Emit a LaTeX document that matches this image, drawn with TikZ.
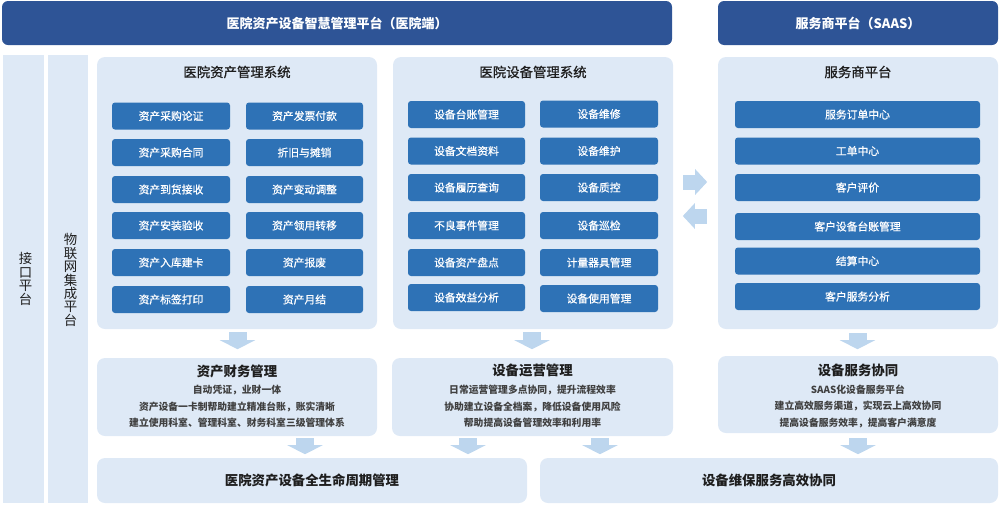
\documentclass[tikz,border=0pt]{standalone}
\usepackage{fontspec}
\setmainfont{Noto Sans CJK SC}
\usepackage{xcolor}
\usepackage{tikz}
\usetikzlibrary{positioning}
\usetikzlibrary{arrows.meta}
\pgfdeclarelayer{nodelayer}
\pgfdeclarelayer{edgelayer}
\pgfsetlayers{nodelayer,edgelayer,main}
\definecolor{hdrblue}{HTML}{2E5496}
\definecolor{btnblue}{HTML}{2E72B6}
\definecolor{pnlblue}{HTML}{DEE9F6}
\definecolor{arwblue}{HTML}{BDD6EE}
\definecolor{txtdark}{HTML}{1E1E1E}

\begin{document}
\begin{tikzpicture}[x=1pt, y=-1pt,
    hdr/.style={fill=hdrblue, rounded corners=6pt, inner sep=0pt, text=white, font=\fontsize{13}{15}\selectfont\bfseries},
    pnl/.style={fill=pnlblue, rounded corners=8pt, inner sep=0pt},
    btn/.style={fill=btnblue, rounded corners=3pt, inner sep=0pt, minimum height=27pt, text=white, font=\fontsize{10.8}{12}\selectfont\addfontfeature{FakeBold=0.8}},
    ttl/.style={text=txtdark, inner sep=0pt, font=\fontsize{13.4}{15}\selectfont\addfontfeature{FakeBold=1}},
    bigttl/.style={text=txtdark, inner sep=0pt, font=\fontsize{13.4}{15}\selectfont\bfseries},
    vtxt/.style={text=txtdark, inner sep=0pt, align=center, font=\fontsize{13.4}{13.4}\selectfont},
    lines/.style={text=txtdark!85, inner sep=0pt, align=center, font=\fontsize{9.8}{16.5}\selectfont\bfseries},
    blockarw/.style={arwblue, line width=18pt, -{Triangle[width=35pt, length=9pt]}},
    sidearw/.style={arwblue, line width=15pt, -{Triangle[width=25pt, length=12pt]}}]
  \useasboundingbox (0,0) rectangle (1000,504);
  \begin{pgfonlayer}{nodelayer}
    \node [hdr, minimum width=670pt, minimum height=44pt] (0) at (337, 23) {医院资产设备智慧管理平台（医院端）};
    \node [hdr, minimum width=280pt, minimum height=44pt] (1) at (858, 23) {服务商平台（SAAS）};
    \node [pnl, rounded corners=0pt, minimum width=41pt, minimum height=448pt] (2) at (23.5, 279) {};
    \node [pnl, rounded corners=0pt, minimum width=40pt, minimum height=448pt] (3) at (68, 279) {};
    \node [vtxt] at (25.5, 279) {接\\口\\平\\台};
    \node [vtxt] at (70.5, 280) {物\\联\\网\\集\\成\\平\\台};
    \node [pnl, minimum width=280pt, minimum height=272pt] (4) at (237, 193) {};
    \node [pnl, minimum width=280pt, minimum height=272pt] (5) at (533, 193) {};
    \node [pnl, minimum width=280pt, minimum height=272pt] (6) at (858, 193) {};
    \node [ttl] (7) at (237, 72) {医院资产管理系统};
    \node [ttl] (8) at (533, 72) {医院设备管理系统};
    \node [ttl] (9) at (858, 72) {服务商平台};
    \node [btn, minimum width=118pt] (10) at (171, 116) {资产采购论证};
    \node [btn, minimum width=118pt] (11) at (171, 152.5) {资产采购合同};
    \node [btn, minimum width=118pt] (12) at (171, 189.5) {资产到货接收};
    \node [btn, minimum width=118pt] (13) at (171, 225.5) {资产安装验收};
    \node [btn, minimum width=118pt] (14) at (171, 262.5) {资产入库建卡};
    \node [btn, minimum width=118pt] (15) at (171, 299.5) {资产标签打印};
    \node [btn, minimum width=117pt] (16) at (304.5, 116) {资产发票付款};
    \node [btn, minimum width=117pt] (17) at (304.5, 152.5) {折旧与摊销};
    \node [btn, minimum width=117pt] (18) at (304.5, 189.5) {资产变动调整};
    \node [btn, minimum width=117pt] (19) at (304.5, 225.5) {资产领用转移};
    \node [btn, minimum width=117pt] (20) at (304.5, 262.5) {资产报废};
    \node [btn, minimum width=117pt] (21) at (304.5, 299.5) {资产月结};
    \node [btn, minimum width=117pt] (22) at (466.5, 114.5) {设备台账管理};
    \node [btn, minimum width=117pt] (23) at (466.5, 151) {设备文档资料};
    \node [btn, minimum width=117pt] (24) at (466.5, 187.5) {设备履历查询};
    \node [btn, minimum width=117pt] (25) at (466.5, 225.5) {不良事件管理};
    \node [btn, minimum width=117pt] (26) at (466.5, 262.5) {设备资产盘点};
    \node [btn, minimum width=117pt] (27) at (466.5, 297.5) {设备效益分析};
    \node [btn, minimum width=118pt] (28) at (599, 114) {设备维修};
    \node [btn, minimum width=118pt] (29) at (599, 151) {设备维护};
    \node [btn, minimum width=118pt] (30) at (599, 187.5) {设备质控};
    \node [btn, minimum width=118pt] (31) at (599, 225.5) {设备巡检};
    \node [btn, minimum width=118pt] (32) at (599, 262.5) {计量器具管理};
    \node [btn, minimum width=118pt] (33) at (599, 298.5) {设备使用管理};
    \node [btn, minimum width=245pt] (34) at (857.5, 114.5) {服务订单中心};
    \node [btn, minimum width=245pt] (35) at (857.5, 151) {工单中心};
    \node [btn, minimum width=245pt] (36) at (857.5, 187.5) {客户评价};
    \node [btn, minimum width=245pt] (37) at (857.5, 226.5) {客户设备台账管理};
    \node [btn, minimum width=245pt] (38) at (857.5, 261) {结算中心};
    \node [btn, minimum width=245pt] (39) at (857.5, 296.5) {客户服务分析};
    \node [pnl, minimum width=280pt, minimum height=78pt] (40) at (237, 397) {};
    \node [pnl, minimum width=281pt, minimum height=78pt] (41) at (532.5, 397) {};
    \node [pnl, minimum width=280pt, minimum height=77pt] (42) at (858, 394.5) {};
    \node [bigttl] (43) at (237, 371) {资产财务管理};
    \node [bigttl] (44) at (532.5, 370) {设备运营管理};
    \node [bigttl] (45) at (858, 370) {设备服务协同};
    \node [lines] (46) at (237, 406.5) {自动凭证，业财一体\\资产设备一卡制帮助建立精准台账，账实清晰\\建立使用科室、管理科室、财务科室三级管理体系};
    \node [lines] (47) at (532.5, 406.5) {日常运营管理多点协同，提升流程效率\\协助建立设备全档案，降低设备使用风险\\帮助提高设备管理效率和利用率};
    \node [lines] (48) at (858, 406) {SAAS化设备服务平台\\建立高效服务渠道，实现云上高效协同\\提高设备服务效率，提高客户满意度};
    \node [pnl, minimum width=430pt, minimum height=45pt, font=\fontsize{13.4}{15}\selectfont\bfseries, text=txtdark] (49) at (312, 480.5) {医院资产设备全生命周期管理};
    \node [pnl, minimum width=458pt, minimum height=45pt, font=\fontsize{13.4}{15}\selectfont\bfseries, text=txtdark] (50) at (769, 480.5) {设备维保服务高效协同};
  \end{pgfonlayer}
  \begin{pgfonlayer}{edgelayer}
    \draw [blockarw] (237.5,0 |- 4.south) ++(0,3) -- ++(0,17);
    \draw [blockarw] (532,0 |- 5.south) ++(0,3) -- ++(0,17);
    \draw [blockarw] (857.5,0 |- 6.south) ++(0,4) -- ++(0,16);
    \draw [blockarw] (305,0 |- 40.south) ++(0,2) -- ++(0,16);
    \draw [blockarw] (468,0 |- 41.south) ++(0,2) -- ++(0,16);
    \draw [blockarw] (600,0 |- 41.south) ++(0,2) -- ++(0,16);
    \draw [blockarw] (858,0 |- 42.south) ++(0,5) -- ++(0,16);
    \draw [sidearw] ([yshift=11pt]5.east) ++(10,0) -- ++(24,0);
    \draw [sidearw] ([yshift=-23pt]6.west) ++(-11,0) -- ++(-24,0);
  \end{pgfonlayer}
\end{tikzpicture}
\end{document}
